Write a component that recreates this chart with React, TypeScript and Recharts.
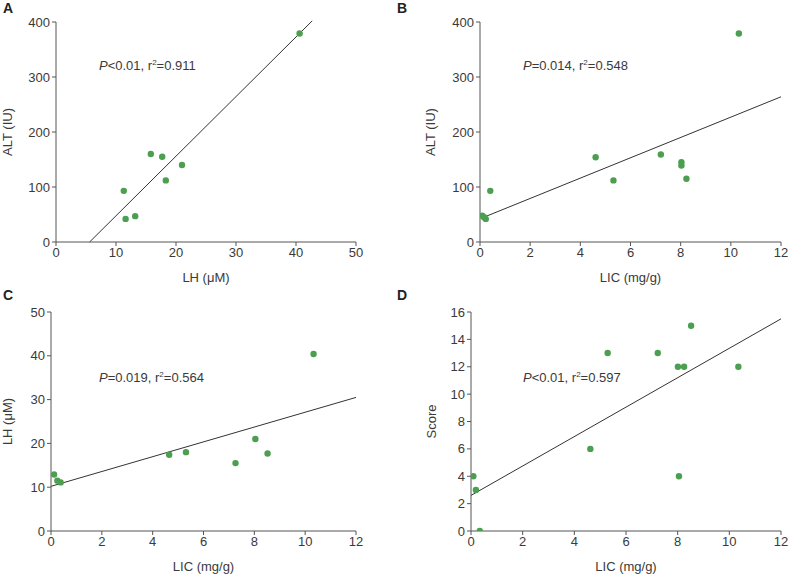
import { ReferenceLine, Scatter, ScatterChart, XAxis, YAxis } from 'recharts';

// panel A: LH vs ALT
const lhA = [11.3, 11.6, 13.2, 15.8, 17.7, 18.3, 21.0, 40.6];
const altA = [93, 42, 47, 160, 155, 112, 140, 379];
const fitA = [
  { x: 5.6, y: 0 },
  { x: 42.7, y: 402 },
];

// panel B: LIC vs ALT
const licB = [0.09, 0.16, 0.23, 0.41, 4.61, 5.32, 7.21, 8.03, 8.03, 8.23, 10.32];
const altB = [48, 45, 42, 93, 154, 112, 159, 145, 139, 115, 379];
const fitB = [
  { x: 0.15, y: 45 },
  { x: 12, y: 264 },
];

// panel C: LIC vs LH
const licC = [0.12, 0.25, 0.38, 4.65, 5.31, 7.26, 8.04, 8.52, 10.33];
const lhC = [12.9, 11.5, 11.1, 17.4, 18.0, 15.5, 21.0, 17.7, 40.4];
const fitC = [
  { x: 0, y: 10.2 },
  { x: 12, y: 30.5 },
];

// panel D: LIC vs score
const licD = [0.09, 0.19, 0.34, 4.62, 5.29, 7.23, 8.01, 8.25, 8.52, 8.05, 10.35];
const scoreD = [4, 3, 0, 6, 13, 13, 12, 12, 15, 4, 12];
const fitD = [
  { x: 0, y: 2.6 },
  { x: 12, y: 15.5 },
];

const ticksALT = [0, 100, 200, 300, 400];
const ticksLH = [0, 10, 20, 30, 40, 50];
const ticksLIC = [0, 2, 4, 6, 8, 10, 12];
const ticksScore = [0, 2, 4, 6, 8, 10, 12, 14, 16];

const DOT = '#4c9f50';
const AXIS = '#555';
const TEXT = '#3a3a3a';
const FONT = 'Liberation Sans, Arial, sans-serif';
const FS = 13;

const zip = (xs: number[], ys: number[]) => xs.map((x, i) => ({ x, y: ys[i] }));

function Dot(props: any) {
  const { cx, cy } = props;
  if (cx == null || cy == null) return null;
  return <circle cx={cx} cy={cy} r={3.2} fill={DOT} />;
}

interface PanelProps {
  left: number;
  top: number;
  letter: string;
  points: { x: number; y: number }[];
  fit: { x: number; y: number }[];
  xTicks: number[];
  yTicks: number[];
  xLabel: string;
  yLabel: string;
  margin: { top: number; right: number; bottom: number; left: number };
  yWidth: number;
  stat: { p: string; r2: string; x: number; y: number };
}

function Panel(p: PanelProps) {
  const tick = { fill: TEXT, fontSize: FS, fontFamily: FONT };
  return (
    <div style={{ position: 'absolute', left: p.left, top: p.top, width: 394, height: 287 }}>
      <ScatterChart width={394} height={287} margin={p.margin}>
        <XAxis
          type="number"
          dataKey="x"
          domain={[p.xTicks[0], p.xTicks[p.xTicks.length - 1]]}
          ticks={p.xTicks}
          allowDataOverflow
          stroke={AXIS}
          tickSize={4}
          tick={tick}
          height={42}
          label={{ value: p.xLabel, position: 'insideBottom', offset: 2, fill: TEXT, fontSize: FS, fontFamily: FONT }}
        />
        <YAxis
          type="number"
          dataKey="y"
          domain={[p.yTicks[0], p.yTicks[p.yTicks.length - 1]]}
          ticks={p.yTicks}
          allowDataOverflow
          stroke={AXIS}
          tickSize={4}
          tick={tick}
          width={p.yWidth}
          label={{
            value: p.yLabel,
            angle: -90,
            position: 'insideLeft',
            offset: 5,
            fill: TEXT,
            fontSize: FS,
            fontFamily: FONT,
            style: { textAnchor: 'middle' },
          }}
        />
        <ReferenceLine segment={[p.fit[0], p.fit[1]]} stroke="#333" strokeWidth={1} ifOverflow="visible" />
        <Scatter data={p.points} shape={<Dot />} isAnimationActive={false} />
      </ScatterChart>
      <div
        style={{
          position: 'absolute',
          left: 3,
          top: 0,
          fontFamily: FONT,
          fontWeight: 700,
          fontSize: 14,
          color: '#222',
        }}
      >
        {p.letter}
      </div>
      <div
        style={{
          position: 'absolute',
          left: p.stat.x,
          top: p.stat.y,
          fontFamily: FONT,
          fontSize: FS,
          color: TEXT,
          whiteSpace: 'nowrap',
        }}
      >
        <i>P</i>
        {p.stat.p}, r<sup style={{ fontSize: 8 }}>2</sup>={p.stat.r2}
      </div>
    </div>
  );
}

export default function App() {
  return (
    <div style={{ position: 'absolute', left: 0, top: 0, width: 788, height: 574, background: '#fff' }}>
      <Panel
        left={0}
        top={0}
        letter="A"
        points={zip(lhA, altA)}
        fit={fitA}
        xTicks={ticksLH}
        yTicks={ticksALT}
        xLabel="LH (μM)"
        yLabel="ALT (IU)"
        margin={{ top: 22, right: 38, bottom: 3, left: 2 }}
        yWidth={54}
        stat={{ p: '<0.01', r2: '0.911', x: 99, y: 58 }}
      />
      <Panel
        left={394}
        top={0}
        letter="B"
        points={zip(licB, altB)}
        fit={fitB}
        xTicks={ticksLIC}
        yTicks={ticksALT}
        xLabel="LIC (mg/g)"
        yLabel="ALT (IU)"
        margin={{ top: 22, right: 7, bottom: 3, left: 31 }}
        yWidth={55}
        stat={{ p: '=0.014', r2: '0.548', x: 129, y: 58 }}
      />
      <Panel
        left={0}
        top={287}
        letter="C"
        points={zip(licC, lhC)}
        fit={fitC}
        xTicks={ticksLIC}
        yTicks={ticksLH}
        xLabel="LIC (mg/g)"
        yLabel="LH (μM)"
        margin={{ top: 25, right: 38, bottom: 1, left: 2 }}
        yWidth={49}
        stat={{ p: '=0.019', r2: '0.564', x: 99, y: 83 }}
      />
      <Panel
        left={394}
        top={287}
        letter="D"
        points={zip(licD, scoreD)}
        fit={fitD}
        xTicks={ticksLIC}
        yTicks={ticksScore}
        xLabel="LIC (mg/g)"
        yLabel="Score"
        margin={{ top: 25, right: 7, bottom: 1, left: 32 }}
        yWidth={45}
        stat={{ p: '<0.01', r2: '0.597', x: 129, y: 83 }}
      />
    </div>
  );
}
